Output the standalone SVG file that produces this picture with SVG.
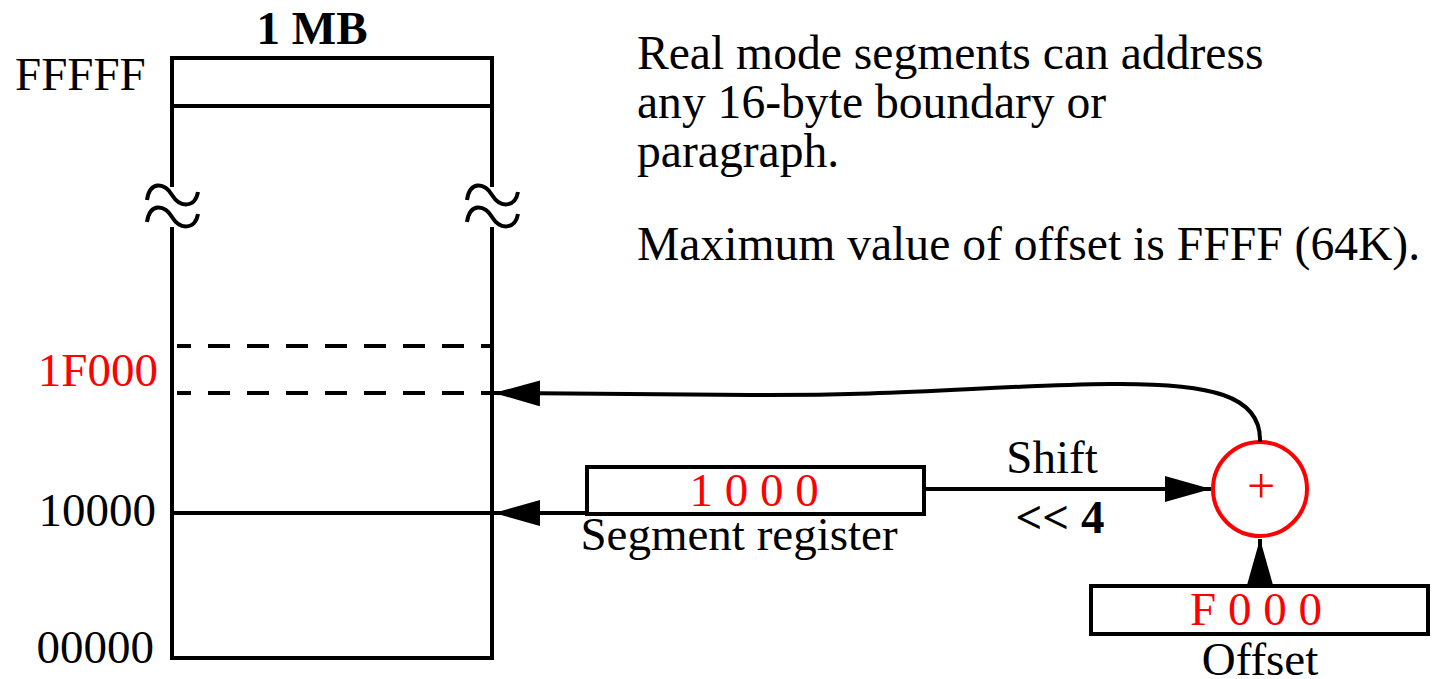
<svg xmlns="http://www.w3.org/2000/svg" width="1433" height="679" viewBox="0 0 1433 679">
<style>
text{font-family:"Liberation Serif","Times New Roman",serif;font-size:47px;fill:#000}
.red{fill:#f00}
.b{font-weight:bold}
.note{font-size:47.6px}
.ln{stroke:#000;stroke-width:4;fill:none}
.dash{stroke:#000;stroke-width:4;fill:none;stroke-dasharray:22 17;stroke-dashoffset:8}
</style>
<defs>
<marker id="ah" markerUnits="userSpaceOnUse" markerWidth="48" markerHeight="28" refX="46" refY="13" orient="auto">
<path d="M0,0 L46,13 L0,26 Z" fill="#000"/>
</marker>
</defs>
<g id="memory">
<path class="ln" d="M172,187 V58 H492 V187 M172,106 H492 M172,227 V658 H492 V227 M172,513 H492"/>
<path class="ln" d="M147,200 C150,180 165,183 172,195 C180,208 195,208 198,192 M147,222 C150,202 165,205 172,217 C180,230 195,230 198,214"/>
<path class="ln" d="M467,200 C470,180 485,183 492,195 C500,208 515,208 518,192 M467,222 C470,202 485,205 492,217 C500,230 515,230 518,214"/>
<line class="dash" x1="177" y1="346" x2="492" y2="346"/>
<line class="dash" x1="177" y1="393" x2="492" y2="393"/>
<text x="312" y="44" text-anchor="middle" class="b">1 MB</text>
<text x="15" y="90">FFFFF</text>
<text x="158" y="386" text-anchor="end" class="red">1F000</text>
<text x="156" y="526" text-anchor="end">10000</text>
<text x="154" y="663" text-anchor="end">00000</text>
</g>
<g id="segment">
<rect class="ln" x="587" y="467" width="337" height="47"/>
<text x="754" y="506" text-anchor="middle" class="red">1 0 0 0</text>
<text x="739" y="550" text-anchor="middle">Segment register</text>
</g>
<g id="adder">
<circle cx="1260" cy="489" r="47" fill="none" stroke="#f00" stroke-width="4"/>
<text x="1261" y="503" text-anchor="middle" class="red" style="font-size:50px">+</text>
</g>
<g id="offset">
<rect class="ln" x="1091" y="586" width="337" height="48"/>
<text x="1256" y="625" text-anchor="middle" class="red">F 0 0 0</text>
<text x="1260" y="675" text-anchor="middle">Offset</text>
</g>
<g id="notes">
<text class="note" x="637" y="69">Real mode segments can address</text>
<text class="note" x="637" y="118">any 16-byte boundary or</text>
<text class="note" x="637" y="167">paragraph.</text>
<text class="note" x="637" y="260">Maximum value of offset is FFFF (64K).</text>
</g>
<g id="connectors">
<path class="ln" d="M587,513 H494" marker-end="url(#ah)"/>
<path class="ln" d="M924,489 H1211" marker-end="url(#ah)"/>
<path class="ln" d="M1260,586 V539" marker-end="url(#ah)"/>
<path class="ln" d="M1260,442 C1262,395 1210,383 1110,384 C1000,385 900,396 750,395 L494,393" marker-end="url(#ah)"/>
<text x="1052" y="473" text-anchor="middle">Shift</text>
<text x="1060" y="533" text-anchor="middle" class="b">&lt;&lt; 4</text>
</g>
</svg>
